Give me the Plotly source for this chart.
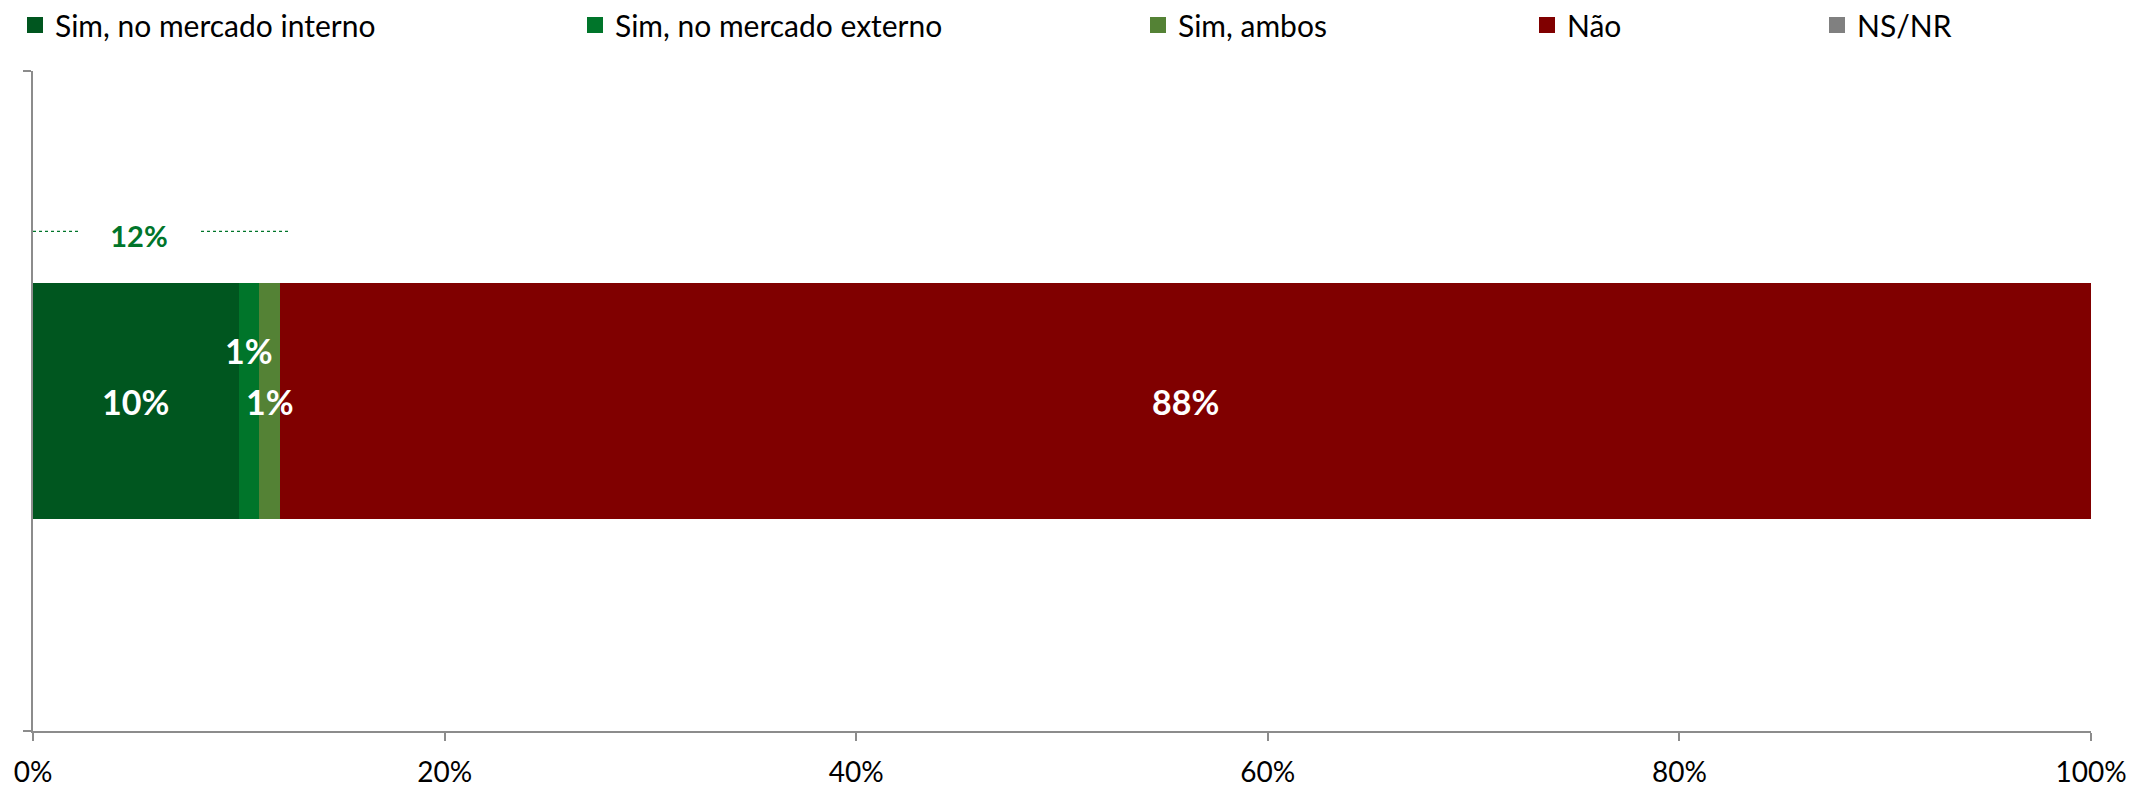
import plotly.graph_objects as go

categories = ["Sim, no mercado interno", "Sim, no mercado externo", "Sim, ambos", "Não", "NS/NR"]
values = [10, 1, 1, 88, 0]
colors = ["#00561F", "#00752A", "#548235", "#800000", "#808080"]
total_sim_label = "12%"
x_tick_vals = [0, 20, 40, 60, 80, 100]
x_tick_text = ["0%", "20%", "40%", "60%", "80%", "100%"]
legend_px = [15, 575, 1138, 1527, 1817]

PAGE_OFFSET = 8  # default body margin of the html page
W, H = 2154 - PAGE_OFFSET, 789 - PAGE_OFFSET
FONT = "Lato"

fig = go.Figure()
for i, (cat, v, c) in enumerate(zip(categories, values, colors)):
    lg = "legend" if i == 0 else f"legend{i+1}"
    fig.add_trace(go.Bar(
        y=[0], x=[v], orientation="h", name=cat, width=1,
        marker=dict(color=c, line=dict(width=0)),
        showlegend=False, hoverinfo="name+x",
    ))
    # legend entry with a larger square swatch
    fig.add_trace(go.Scatter(
        x=[None], y=[None], mode="markers", name=cat,
        marker=dict(symbol="square", size=18, color=c, line=dict(width=0)),
        legend=lg, showlegend=True, hoverinfo="skip",
    ))

# data labels
cum = 0
annotations = []
for i, v in enumerate(values):
    if v > 0:
        mid = cum + v / 2
        annotations.append(dict(
            x=mid, y=0, xref="x", yref="y", text=f"<b>{v}%</b>", showarrow=False,
            font=dict(family=FONT, size=34, color="white"),
            yshift=51 if i == 1 else 0,
        ))
    cum += v

total_sim = sum(values[:3])
# dotted bracket line for total "Sim"
fig.add_trace(go.Scatter(
    x=[0, total_sim + 0.5], y=[0.72, 0.72], mode="lines",
    line=dict(color="#00752A", dash="dot", width=1.2),
    showlegend=False, hoverinfo="skip",
))
annotations.append(dict(
    x=total_sim / 2, y=0.72, xref="x", yref="y", text=f"<b>{total_sim_label}</b>",
    showarrow=False, xshift=-17, yshift=-4,
    font=dict(family=FONT, size=29, color="#00752A"),
    bgcolor="white", width=116, height=36,
))

layout_legends = {}
for i, px in enumerate(legend_px):
    key = "legend" if i == 0 else f"legend{i+1}"
    layout_legends[key] = dict(
        xref="container", yref="container", x=(px - PAGE_OFFSET) / W,
        y=1 - 17 / H, xanchor="left", yanchor="middle", orientation="h",
        font=dict(family=FONT, size=30, color="black"),
        bgcolor="rgba(0,0,0,0)", itemwidth=30, tracegroupgap=0,
        itemsizing="trace",
    )

fig.update_layout(
    width=W, height=H,
    margin=dict(l=33 - PAGE_OFFSET, r=63, t=71 - PAGE_OFFSET, b=58, autoexpand=False),
    barmode="stack",
    plot_bgcolor="white", paper_bgcolor="white",
    font=dict(family=FONT, size=28, color="black"),
    annotations=annotations,
    showlegend=True,
    **layout_legends,
)
fig.update_xaxes(
    range=[0, 100], tickvals=x_tick_vals, ticktext=x_tick_text,
    showgrid=False, zeroline=False, showline=True, linecolor="#8C8C8C", linewidth=2,
    ticks="outside", ticklen=8, tickwidth=2, tickcolor="#8C8C8C",
    tickfont=dict(family=FONT, size=28, color="black"),
    ticklabelstandoff=7, automargin=False,
)
fig.update_yaxes(
    range=[-1.4, 1.4], tickvals=[-1.4, 1.4], ticktext=["", ""],
    showgrid=False, zeroline=False, showline=True, linecolor="#8C8C8C", linewidth=2,
    ticks="outside", ticklen=8, tickwidth=2, tickcolor="#8C8C8C",
    automargin=False,
)

fig.write_html("out.html")
